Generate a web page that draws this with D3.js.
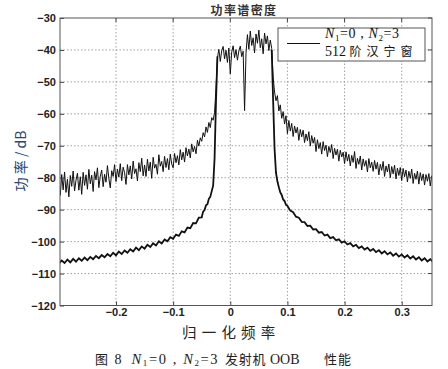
<!DOCTYPE html>
<html><head><meta charset="utf-8">
<script src="https://cdn.jsdelivr.net/npm/d3@7"></script>
<style>body{margin:0;background:#fff} svg{display:block}</style>
</head><body>
<svg id="c" width="448" height="369"></svg>
<script>
// ---------- data ----------
const titleText = "功率谱密度";
const xLabelText = "归一化频率";
const yLabelText = "功 率 / dB";
const xTicks = [-0.2, -0.1, 0, 0.1, 0.2, 0.3];
const yTicks = [-30, -40, -50, -60, -70, -80, -90, -100, -110, -120];
const xDomain = [-0.298, 0.353];
const yDomain = [-120, -30];

// upper (noisy) PSD, sampled on a regular grid starting at -0.3 with step 0.0025
const upperStart = -0.3, upperStep = 0.0025;
const upperDb = [
 -81,-85.5,-79,-83.8,-78.2,-84.6,-80.5,-86,-79.3,-82.7,-77.9,-84.1,-80.8,-78.6,-83.9,-79.7,-85.2,-78.3,-82.4,-79.1,
 -83.6,-77.4,-81.9,-79.2,-84.3,-78.1,-80.7,-76.9,-83.1,-79.5,-77.6,-82.8,-78.9,-81.4,-76.2,-80.3,-83.2,-77.8,-79.6,-75.9,
 -81.2,-77.3,-79.8,-75.6,-80.9,-76.7,-78.4,-82.1,-75.9,-79.1,-76.3,-80.4,-74.8,-78.7,-77.2,-81.0,-75.3,-78.1,-73.9,-79.4,
 -76.0,-79.6,-74.2,-77.9,-75.1,-80.2,-73.6,-77.0,-75.8,-78.9,-72.8,-76.4,-74.9,-78.1,-73.3,-76.8,-74.0,-77.5,-72.6,-75.7,
 -76.9,-72.4,-75.3,-73.1,-76.0,-71.2,-74.4,-72.0,-75.1,-70.6,-73.2,-71.0,-73.8,-69.4,-71.9,-70.2,-72.5,-68.3,-70.1,-67.5,
 -68.6,-65.9,-67.2,-64.1,-65.8,-62.7,-64.3,-61.2,-62.0,-59.5,-52,
 -42.5,-39.8,-43.6,-40.2,-38.9,-42.8,-40.1,-43.9,-39.4,-47.5,-40.6,-38.7,-42.4,-39.9,-43.2,-40.3,-38.8,-42.1,-40.4,
 -59,
 -41,-35.2,-39.8,-34.1,-38.6,-36.2,-40.9,-35.0,-37.9,-33.8,-39.3,-36.5,-41.2,-34.7,-38.1,-35.6,-40.2,-36.9,-39.5,
 -48.5,-53.2,-55.9,-54.3,-59.1,-57.2,-61.4,-59.3,-63.2,-60.6,
 -66.2,-62.1,-65.4,-63.0,-67.1,-63.8,-66.0,-64.2,-68.3,-64.9,-67.2,-65.1,-69.0,-66.3,-68.4,-65.6,-70.1,-66.8,-69.2,-67.4,
 -71.8,-68.1,-70.9,-69.0,-72.6,-68.7,-71.5,-69.8,-73.4,-70.2,-72.1,-69.6,-74.0,-70.8,-72.9,-71.1,-74.8,-71.4,-73.5,-72.0,
 -75.6,-71.9,-74.8,-72.7,-76.3,-73.0,-75.2,-71.8,-77.1,-73.9,-75.8,-73.2,-77.6,-74.1,-76.4,-74.6,-78.2,-74.0,-76.9,-75.1,
 -78.0,-74.6,-77.3,-75.2,-79.1,-75.8,-77.7,-74.9,-79.6,-76.3,-78.2,-75.7,-80.0,-76.5,-78.8,-76.1,-80.4,-77.0,-79.3,-76.8,
 -80.9,-77.1,-79.7,-77.6,-81.3,-78.0,-80.2,-77.3,-81.8,-78.6,-80.5,-77.9,-82.0,-78.4,-80.9,-78.8,-82.3,-79.0,-81.1,-78.7,-82.6,-79.4,-81.0
];

// lower (Hanning-windowed) PSD, left skirt
const lowerLeftFreq = [
 -0.300,-0.295,-0.290,-0.285,-0.280,-0.275,-0.270,-0.265,-0.260,-0.255,-0.250,-0.245,-0.240,-0.235,-0.230,-0.225,-0.220,-0.215,-0.210,-0.205,
 -0.200,-0.195,-0.190,-0.185,-0.180,-0.175,-0.170,-0.165,-0.160,-0.155,-0.150,-0.145,-0.140,-0.135,-0.130,-0.125,-0.120,-0.115,-0.110,-0.105,
 -0.100,-0.095,-0.090,-0.085,-0.080,-0.075,-0.070,-0.065,-0.060,-0.055,-0.050,
 -0.0475,-0.045,-0.0425,-0.040,-0.0375,-0.035,-0.0325,-0.030,-0.0275,-0.025,-0.0225
];
const lowerLeftDb = [
 -106.9,-105.9,-106.7,-105.6,-106.5,-105.4,-106.3,-105.2,-106.0,-105.0,-105.8,-104.8,-105.5,-104.5,-105.2,-104.2,-104.9,-103.9,-104.6,-103.5,
 -104.3,-103.1,-103.9,-102.8,-103.5,-102.4,-103.1,-101.9,-102.7,-101.5,-102.2,-101.0,-101.7,-100.5,-101.2,-99.9,-100.6,-99.3,-99.9,-98.6,
 -99.1,-97.8,-98.2,-96.8,-97.1,-95.6,-95.8,-94.2,-94.3,-92.5,-92.4,
 -90.6,-90.1,-88.6,-88.3,-86.6,-86.0,-84.2,-82.5,-74,-56,-42
];
// lower PSD, right skirt
const lowerRightFreq = [
 0.0725,0.075,0.0775,0.080,0.0825,0.085,0.0875,0.090,0.0925,0.095,0.0975,0.100,
 0.105,0.110,0.115,0.120,0.125,0.130,0.135,0.140,0.145,0.150,0.155,0.160,0.165,0.170,0.175,0.180,0.185,0.190,0.195,
 0.200,0.205,0.210,0.215,0.220,0.225,0.230,0.235,0.240,0.245,0.250,0.255,0.260,0.265,0.270,0.275,0.280,0.285,0.290,0.295,
 0.300,0.305,0.310,0.315,0.320,0.325,0.330,0.335,0.340,0.345,0.350,0.355
];
const lowerRightDb = [
 -40,-56,-71,-78.5,-81.2,-83.0,-84.6,-85.4,-86.8,-87.3,-88.5,-88.8,
 -90.3,-90.8,-92.2,-92.5,-93.8,-93.9,-95.1,-95.0,-96.2,-96.1,-97.2,-97.0,-98.1,-97.8,-98.9,-98.6,-99.6,-99.3,-100.3,
 -99.9,-100.9,-100.5,-101.5,-101.0,-102.0,-101.5,-102.5,-101.9,-102.9,-102.3,-103.3,-102.7,-103.7,-103.0,-104.0,-103.4,-104.4,-103.7,-104.7,
 -104.0,-105.0,-104.3,-105.3,-104.6,-105.6,-104.9,-105.9,-105.2,-106.2,-105.5,-106.4
];

// ---------- drawing ----------
const svg = d3.select("#c");
const L = 60, R = 432, T = 18, B = 305.5;
const x = d3.scaleLinear().domain(xDomain).range([L, R]);
const y = d3.scaleLinear().domain(yDomain).range([B, T]);

svg.append("rect").attr("width", 448).attr("height", 369).attr("fill", "#fff");

svg.append("defs").append("clipPath").attr("id", "clip")
  .append("rect").attr("x", L).attr("y", T).attr("width", R - L).attr("height", B - T);

// grid
const grid = svg.append("g").attr("stroke", "#8a8a8a").attr("stroke-width", 0.8).attr("stroke-dasharray", "1.5,2");
grid.selectAll(".vg").data(xTicks).join("line")
  .attr("x1", d => x(d)).attr("x2", d => x(d)).attr("y1", T).attr("y2", B);
grid.selectAll(".hg").data(yTicks.filter(d => d > -120 && d < -30)).join("line")
  .attr("x1", L).attr("x2", R).attr("y1", d => y(d)).attr("y2", d => y(d));

// curves
const line = d3.line().x(d => x(d[0])).y(d => y(d[1]));
const upperPts = upperDb.map((v, i) => [upperStart + i * upperStep, v]);
const curves = svg.append("g").attr("clip-path", "url(#clip)").attr("fill", "none").attr("stroke", "#111");
curves.append("path").attr("d", line(lowerLeftFreq.map((f, i) => [f, lowerLeftDb[i]])))
  .attr("stroke-width", 1.8);
curves.append("path").attr("d", line(lowerRightFreq.map((f, i) => [f, lowerRightDb[i]])))
  .attr("stroke-width", 1.8);
curves.append("path").attr("d", line(upperPts)).attr("stroke-width", 1);

// axes
const tickFont = g => g.selectAll("text")
  .attr("font-family", "Liberation Sans, Arial, sans-serif")
  .attr("font-size", 11).attr("font-weight", "bold").attr("fill", "#222");
const yAxis = svg.append("g").attr("transform", `translate(${L},0)`)
  .call(d3.axisLeft(y).tickValues(yTicks).tickSizeInner(-4).tickSizeOuter(0).tickPadding(4)
    .tickFormat(d3.format("d")));
yAxis.call(tickFont);
const xAxis = svg.append("g").attr("transform", `translate(0,${B})`)
  .call(d3.axisBottom(x).tickValues(xTicks).tickSizeInner(-4).tickSizeOuter(0).tickPadding(3)
    .tickFormat(d => d === 0 ? "0" : d3.format(".1f")(d)));
xAxis.call(tickFont);
svg.selectAll(".domain").remove();
svg.selectAll(".tick line").attr("stroke", "#444");

// top/right ticks
svg.append("g").attr("stroke", "#444").selectAll("line").data(xTicks).join("line")
  .attr("x1", d => x(d)).attr("x2", d => x(d)).attr("y1", T).attr("y2", T + 4);
svg.append("g").attr("stroke", "#444").selectAll("line").data(yTicks).join("line")
  .attr("x1", R).attr("x2", R - 4).attr("y1", d => y(d)).attr("y2", d => y(d));

// frame
svg.append("rect").attr("x", L).attr("y", T).attr("width", R - L).attr("height", B - T)
  .attr("fill", "none").attr("stroke", "#555").attr("stroke-width", 1);

// title
svg.append("text").attr("x", 244).attr("y", 14.5).attr("text-anchor", "middle")
  .attr("font-family", "Noto Sans CJK SC, sans-serif").attr("font-size", 12)
  .attr("letter-spacing", 1.4).attr("font-weight", "bold").attr("fill", "#333").text(titleText);

// y label
svg.append("text").attr("transform", "translate(25.5,161) rotate(-90)").attr("text-anchor", "middle")
  .attr("font-family", "Noto Sans CJK SC, sans-serif").attr("font-size", 14)
  .attr("fill", "#24467a").text(yLabelText);

// x label
svg.append("text").attr("x", 182).attr("y", 337.5)
  .attr("font-family", "Noto Sans CJK SC, sans-serif").attr("font-size", 14.5)
  .attr("letter-spacing", 5.2).attr("fill", "#222").text(xLabelText);

// legend
const lg = svg.append("g");
lg.append("rect").attr("x", 278).attr("y", 28).attr("width", 147).attr("height", 33)
  .attr("fill", "#fff").attr("stroke", "#444").attr("stroke-width", 0.9);
lg.append("line").attr("x1", 287).attr("x2", 320).attr("y1", 43.5).attr("y2", 43.5)
  .attr("stroke", "#111").attr("stroke-width", 1);
const serif = "Liberation Serif, Times New Roman, serif";
const l1 = lg.append("text").attr("x", 325).attr("y", 38).attr("letter-spacing", 0.6)
  .attr("font-family", serif).attr("font-size", 14).attr("fill", "#111");
l1.append("tspan").attr("font-style", "italic").text("N");
l1.append("tspan").attr("font-size", 9).attr("dy", 2.5).text("1");
l1.append("tspan").attr("dy", -2.5).text("=0 , ");
l1.append("tspan").attr("font-style", "italic").text("N");
l1.append("tspan").attr("font-size", 9).attr("dy", 2.5).text("2");
l1.append("tspan").attr("dy", -2.5).text("=3");
const l2 = lg.append("text").attr("x", 325).attr("y", 56)
  .attr("font-family", serif).attr("font-size", 14).attr("fill", "#111");
l2.append("tspan").text("512 ");
l2.append("tspan").attr("font-family", "Noto Sans CJK SC, sans-serif").attr("font-size", 12)
  .attr("letter-spacing", 5).text("阶汉宁窗");

// caption
const cap = svg.append("g").attr("font-size", 13).attr("fill", "#222");
const cj = "Noto Sans CJK SC, sans-serif";
cap.append("text").attr("x", 95).attr("y", 363.5).attr("font-family", cj).text("图");
cap.append("text").attr("x", 114.5).attr("y", 363.5).attr("font-family", serif).attr("font-size", 14).text("8");
const cN = cap.append("text").attr("x", 131.5).attr("y", 363.5).attr("font-family", serif)
  .attr("font-size", 14.5).attr("letter-spacing", 1.6);
cN.append("tspan").attr("font-style", "italic").text("N");
cN.append("tspan").attr("font-size", 9).attr("dy", 2.5).text("1");
cN.append("tspan").attr("dy", -2.5).text("=0 , ");
cN.append("tspan").attr("font-style", "italic").text("N");
cN.append("tspan").attr("font-size", 9).attr("dy", 2.5).text("2");
cN.append("tspan").attr("dy", -2.5).text("=3");
cap.append("text").attr("x", 225).attr("y", 363.5).attr("font-family", cj).attr("letter-spacing", 0.8).text("发射机");
cap.append("text").attr("x", 270).attr("y", 363.5).attr("font-family", serif).attr("font-size", 14).text("OOB");
cap.append("text").attr("x", 324).attr("y", 363.5).attr("font-family", cj).attr("letter-spacing", 1).text("性能");
</script>
</body></html>
